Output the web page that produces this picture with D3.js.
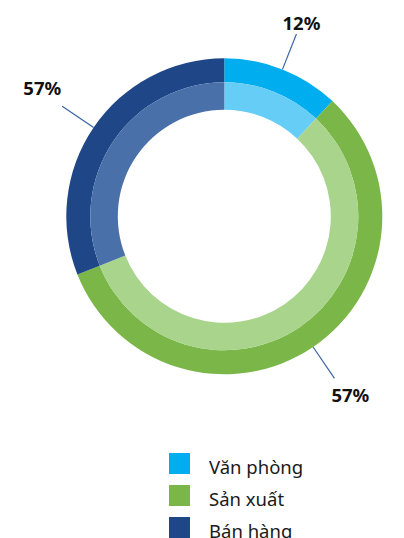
<!DOCTYPE html>
<html><head><meta charset="utf-8">
<script src="https://cdn.jsdelivr.net/npm/d3@7"></script>
<style>html,body{margin:0;padding:0;background:#fff;}svg{display:block;}</style>
</head><body>
<svg id="chart" width="404" height="538"></svg>
<script>
const categories = ["Văn phòng", "Sản xuất", "Bán hàng"];
const values = [12, 57, 31];
const valueLabels = ["12%", "57%", "57%"];
const outerColors = ["#00aeef", "#7ab648", "#1f4686"];
const innerColors = ["#65cdf6", "#a8d48c", "#4a70aa"];

const svg = d3.select("#chart");
const cx = 224.3, cy = 216.3;
const rOuter = 158, rMid = 134, rInner = 106.5, rLine = 196;

const pie = d3.pie().sort(null).value(d => d)(values);
const arcOuter = d3.arc().innerRadius(rMid).outerRadius(rOuter);
const arcInner = d3.arc().innerRadius(rInner).outerRadius(rMid);

const g = svg.append("g").attr("transform", `translate(${cx},${cy})`);
g.selectAll("path.outer").data(pie).join("path").attr("class","outer")
  .attr("d", arcOuter).attr("fill", (d,i) => outerColors[i]);
g.selectAll("path.inner").data(pie).join("path").attr("class","inner")
  .attr("d", arcInner).attr("fill", (d,i) => innerColors[i]);

// leader lines and labels
pie.forEach((d, i) => {
  const a = (d.startAngle + d.endAngle) / 2;
  const sx = Math.sin(a), sy = -Math.cos(a);
  const x1 = rOuter * sx, y1 = rOuter * sy;
  const x2 = rLine * sx, y2 = rLine * sy;
  g.append("line").attr("x1", x1).attr("y1", y1).attr("x2", x2).attr("y2", y2)
    .attr("stroke", "#3a64a4").attr("stroke-width", 1.2);
  let anchor, tx, ty;
  if (Math.abs(sx) < 0.5) { anchor = "middle"; tx = x2 + 5; ty = y2 - 4; }
  else if (sx > 0) { anchor = "start"; tx = x2 - 3; ty = sy < 0 ? y2 - 6 : y2 + 24; }
  else { anchor = "end"; tx = x2 - 1; ty = sy < 0 ? y2 - 11 : y2 + 24; }
  g.append("text").attr("x", tx).attr("y", ty).attr("text-anchor", anchor)
    .attr("font-family", "Noto Sans, sans-serif").attr("font-weight", "bold")
    .attr("font-size", 18.5).attr("fill", "#111").text(valueLabels[i]);
});

// legend
const leg = svg.append("g").attr("transform", "translate(169,453)");
categories.forEach((c, i) => {
  const row = leg.append("g").attr("transform", `translate(0,${i * 32})`);
  row.append("rect").attr("width", 21).attr("height", 21).attr("fill", outerColors[i]);
  row.append("text").attr("x", 40).attr("y", 21)
    .attr("font-family", "Noto Sans, sans-serif").attr("font-size", 18.5)
    .attr("fill", "#1a1a1a").text(c);
});
</script>
</body></html>
